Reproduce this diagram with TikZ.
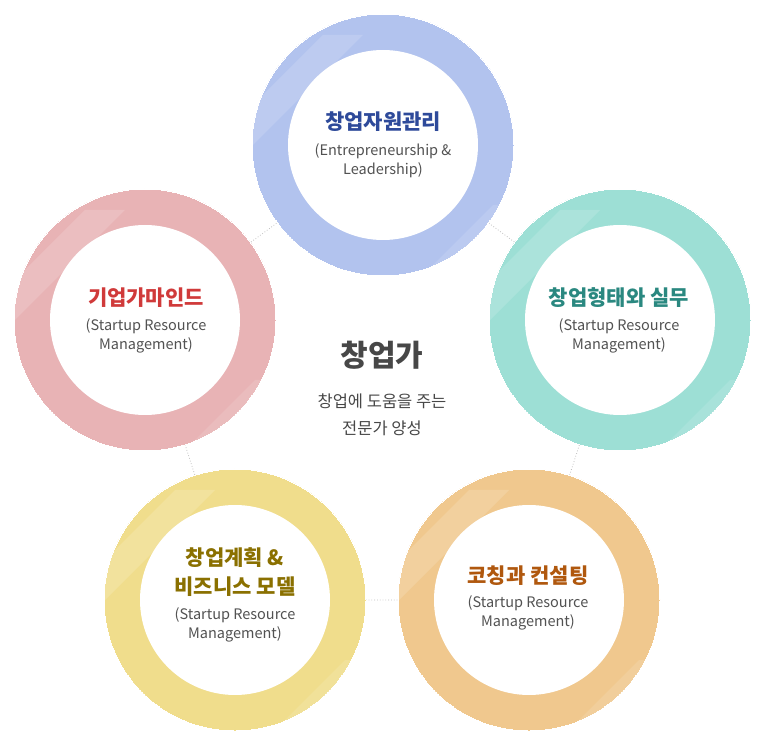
\documentclass[tikz,border=0pt]{standalone}
\usepackage{fontspec}
\usetikzlibrary{calc}
\setmainfont{Noto Sans CJK KR}
\begin{document}
\begin{tikzpicture}[x=1pt,y=-1pt,
 ring/.style={circle,minimum size=262pt,inner sep=0pt,draw=white,line width=0pt},
 hole/.style={circle,fill=white,minimum size=190pt,inner sep=0pt},
 ttl/.style={font=\fontsize{21}{25}\selectfont\bfseries,align=center},
 sub/.style={font=\fontsize{14.5}{19}\selectfont,text=black!68,align=center},
 link/.style={draw=black!25,dotted,line width=0.8pt}]
\useasboundingbox (0,0) rectangle (764,743);
\definecolor{cb}{HTML}{B2C3EE}\definecolor{cr}{HTML}{E8B3B5}
\definecolor{ct}{HTML}{9DDFD5}\definecolor{cy}{HTML}{F0DD8C}\definecolor{co}{HTML}{F0C88E}
\coordinate (t) at (383,145); \coordinate (r) at (620,320); \coordinate (br) at (529,600);
\coordinate (bl) at (235,600); \coordinate (l) at (145,320);
\draw[link] (t)--(r) (r)--(br) (br)--(bl) (bl)--(l) (l)--(t);
\foreach \p/\c in {t/cb,r/ct,br/co,bl/cy,l/cr}{
 \node[ring,fill=\c] (R\p) at (\p) {};
 \begin{scope}
 \clip (\p) circle (131);
 \fill[white,opacity=0.15] ($(\p)+(-130,-40)$) -- ($(\p)+(-60,-110)$) -- ($(\p)+(-20,-110)$) -- ($(\p)+(-130,0)$) -- cycle;
 \fill[white,opacity=0.12] ($(\p)+(40,130)$) -- ($(\p)+(110,60)$) -- ($(\p)+(130,60)$) -- ($(\p)+(70,130)$) -- cycle;
 \end{scope}
 \node[hole] (H\p) at (\p) {};
}
\node[ttl,text={rgb,255:red,46;green,74;blue,154}] (tt) at (383,122) {창업자원관리};
\node[sub] (ts) at (383,161) {(Entrepreneurship \&\\Leadership)};
\node[ttl,text={rgb,255:red,208;green,58;blue,58}] (lt) at (146,298) {기업가마인드};
\node[sub] (ls) at (146,336) {(Startup Resource\\Management)};
\node[ttl,text={rgb,255:red,42;green,136;blue,128}] (rt) at (619,298) {창업형태와 실무};
\node[sub] (rs) at (619,336) {(Startup Resource\\Management)};
\node[ttl,text={rgb,255:red,138;green,112;blue,0},font=\fontsize{21}{29}\selectfont\bfseries] (blt) at (235,572) {창업계획 \&\\비즈니스 모델};
\node[sub] (bls) at (235,625) {(Startup Resource\\Management)};
\node[ttl,text={rgb,255:red,176;green,88;blue,14}] (brt) at (528,576) {코칭과 컨설팅};
\node[sub] (brs) at (528,613) {(Startup Resource\\Management)};
\node[font=\fontsize{30}{33}\selectfont\bfseries,text=black!72] (c) at (382,355) {창업가};
\node[font=\fontsize{16.5}{27}\selectfont,text=black!72,align=center] (cs) at (382,415) {창업에 도움을 주는\\전문가 양성};
\end{tikzpicture}
\end{document}
